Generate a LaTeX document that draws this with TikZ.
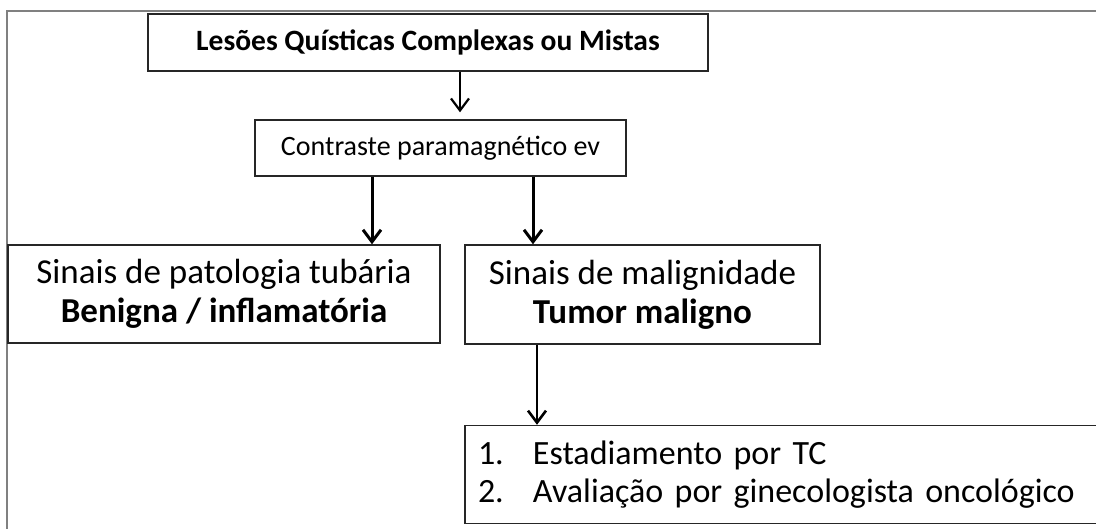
\documentclass[tikz,border=0pt]{standalone}
\usepackage{fontspec}
\setmainfont{Carlito}
\usetikzlibrary{arrows.meta}
\usetikzlibrary{backgrounds}
\newcommand{\fcfont}{\fontsize{28}{34}\selectfont}
\newcommand{\fcfontb}{\fontsize{29.5}{35}\selectfont\bfseries}
\newcommand{\fcfontl}{\fontsize{35}{39}\selectfont}
\newcommand{\fcfontn}{\fontsize{34}{38}\selectfont}
\newcommand{\fclistnum}[1]{\makebox[55pt][l]{#1}}
\tikzset{
  fcbox/.style={draw=black!85, line width=1.4pt, inner sep=0pt,
    align=center, font=\fcfont},
  fcarrow/.style={-{Straight Barb[length=12pt,width=18pt]},
    line width=3pt},
}

\begin{document}
\begin{tikzpicture}[x=1pt,y=-1pt]
    \useasboundingbox (0,0) rectangle (1096,528);

    \node[fcbox, minimum width=560pt, minimum height=57pt, font=\fcfontb]
      (lesoes) at (428,42.5) {Lesões Quísticas Complexas ou Mistas};
    \node[fcbox, minimum width=371pt, minimum height=56pt]
      (contraste) at (440.5,148) {Contraste paramagnético ev};
    \node[fcbox, minimum width=432pt, minimum height=98pt, font=\fcfontl]
      (benigna) at (224,294)
      {Sinais de patologia tubária\\\textbf{Benigna / inflamatória}};
    \node[fcbox, minimum width=355pt, minimum height=99pt, font=\fcfontl]
      (maligno) at (642.5,294.5)
      {Sinais de malignidade\\\textbf{Tumor maligno}};
    \node[fcbox, text width=609pt, inner xsep=13pt, minimum height=98pt,
      align=left, font=\fcfontn]
      (conduta) at (782.5,474.5)
      {\fclistnum{1.}Estadiamento por TC\\
       \fclistnum{2.}Avaliação por ginecologista oncológico};

    \draw[fcarrow, line width=2.2pt, shorten >=7pt]
      ([xshift=32pt]lesoes.south) -- ([xshift=19.5pt]contraste.north);
    \draw[fcarrow]
      ([xshift=-68.5pt]contraste.south) -- ([xshift=148pt]benigna.north);
    \draw[fcarrow]
      ([xshift=92.5pt]contraste.south) -- ([xshift=-109.5pt]maligno.north);
    \draw[fcarrow, line width=2.6pt]
      ([xshift=-105.5pt]maligno.south) -- ([xshift=-245.5pt]conduta.north);

    \begin{scope}[on background layer]
      \draw[black!50, line width=2pt] (7,540) -- (7,11) -- (1100,11);
    \end{scope}
  \end{tikzpicture}
\end{document}
